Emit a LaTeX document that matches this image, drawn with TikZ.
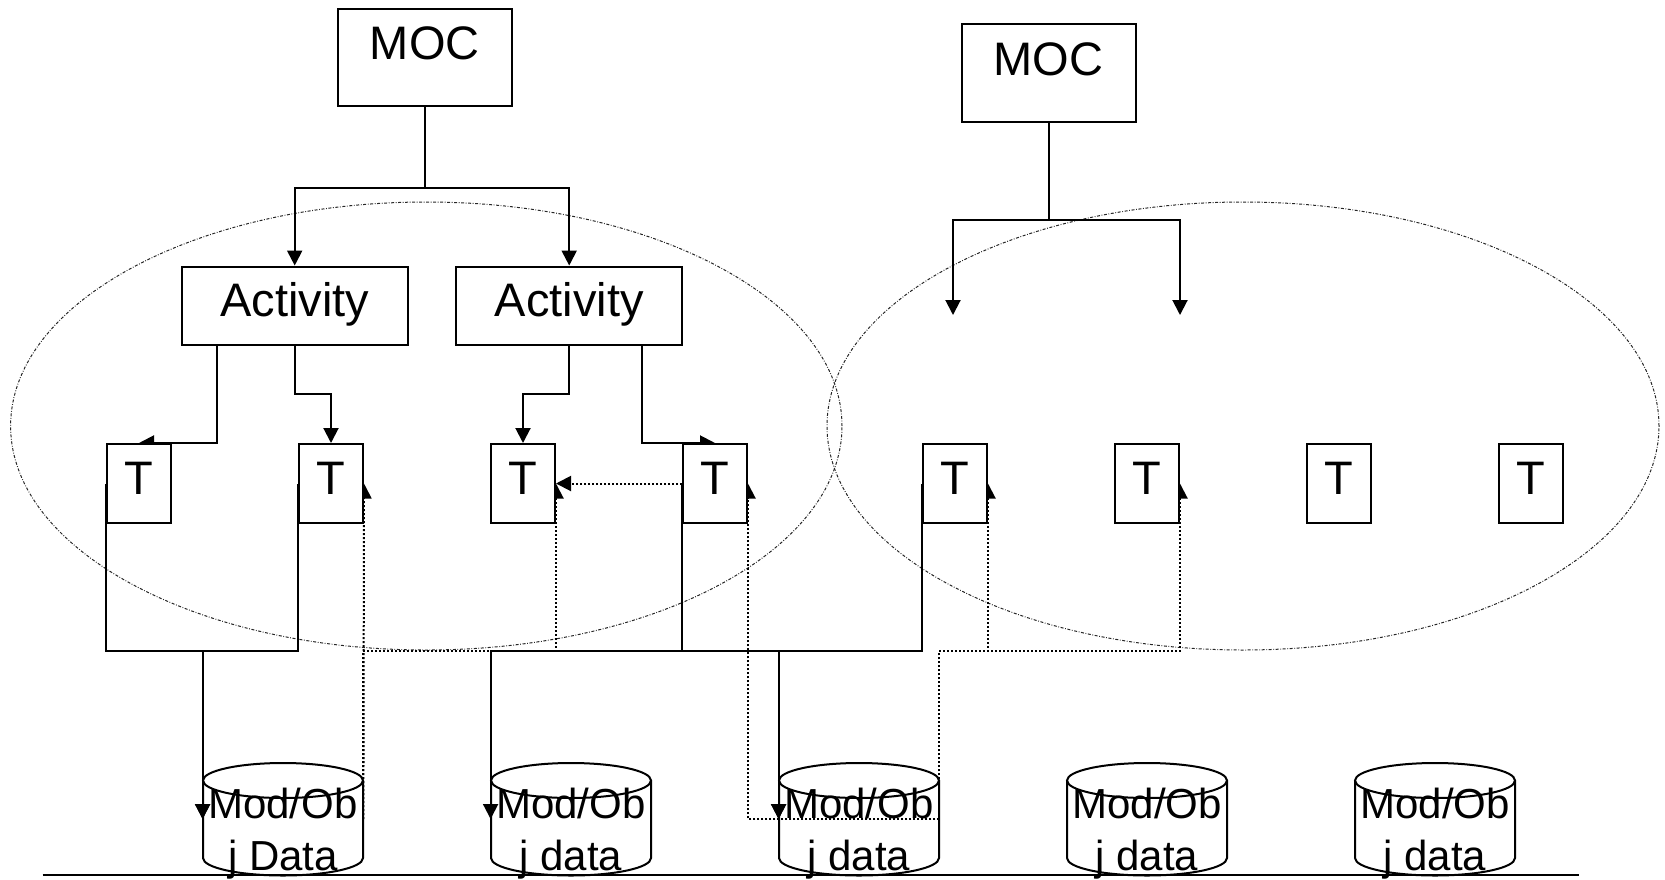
\documentclass[tikz,border=0pt]{standalone}
\usepackage{fontspec}
\setmainfont{Liberation Sans}
\usetikzlibrary{arrows.meta}
\pgfdeclarelayer{bg}
\pgfsetlayers{bg,main}
\begin{document}
\begin{tikzpicture}[x=0.5pt,y=-0.5pt,
  box/.style={draw, line width=1pt, fill=white, inner sep=0pt, font=\fontsize{23.5pt}{28pt}\selectfont},
  mocbox/.style={box, minimum width=87pt, minimum height=48.85pt, text height=12pt, text depth=9.6pt},
  actbox/.style={box, minimum width=113pt, minimum height=39.25pt, text height=12pt, text depth=1.5pt},
  tbox/.style={box, minimum width=32pt, minimum height=39.5pt, text height=12pt, text depth=1.5pt},
  cylbody/.style={inner sep=0pt, minimum width=80pt, minimum height=56.25pt},
  cylline/.style={line width=1pt},
  cyltext/.style={font=\fontsize{21pt}{26pt}\selectfont, align=center, inner sep=0pt},
  arr/.style={line width=1pt, -{Triangle[length=7.5pt,width=7.5pt]}},
  dotconn/.style={line width=1pt, dash pattern=on 1pt off 1pt, -{Triangle[length=7.5pt,width=7.5pt]}},
  group/.style={line width=0.5pt, black!85, dash pattern=on 1.5pt off 0.8pt on 0.4pt off 0.8pt},
  ground/.style={line width=1.2pt}
]
\useasboundingbox (0,0) rectangle (1665,879);

% boxes
\node[mocbox] (moc1) at (424.8,57.4) {MOC};
\node[mocbox] (moc2) at (1048.6,73.2) {MOC};
\node[actbox] (a1) at (294.7,305.8) {Activity};
\node[actbox] (a2) at (569.2,305.8) {Activity};
\foreach \n/\x in {1/139,2/331,3/523,4/715,5/955,6/1147,7/1339,8/1530.5}
  \node[tbox] (t\n) at (\x,483.5) {T};

% data stores
\foreach \n/\x in {1/283,2/571,3/859,4/1147,5/1435}{
  \node[cylbody] (d\n) at (\x,819) {};
  \draw[cylline] (\x,780.5) ellipse [x radius=40pt, y radius=8.75pt];
  \draw[cylline] (\x-80,780.5) -- (\x-80,858) arc[start angle=180, end angle=360, x radius=40pt, y radius=8.75pt] -- (\x+80,780.5);
}
\draw[ground] (42.5,875) -- (1579,875);

\node[cyltext] (l1) at (283,834) {Mod/Ob\\j Data};
\node[cyltext] (l2) at (571,834) {Mod/Ob\\j data};
\node[cyltext] (l3) at (859,834) {Mod/Ob\\j data};
\node[cyltext] (l4) at (1147,834) {Mod/Ob\\j data};
\node[cyltext] (l5) at (1435,834) {Mod/Ob\\j data};

\coordinate (bus) at (0,651);
\coordinate (p1) at (953,315);
\coordinate (p2) at (1180,315);

\begin{pgfonlayer}{bg}
\draw[group] (426.3,426) ellipse [x radius=207.85pt, y radius=112pt];
\draw[group] (1243,426) ellipse [x radius=208pt, y radius=112pt];

\draw[arr] (moc1.south) -- (moc1.south |- 0,188) -| (a1.north);
\draw[arr] (moc1.south) -- (moc1.south |- 0,188) -| (a2.north);
\draw[arr] (moc2.south) -- (moc2.south |- 0,219.5) -| (p1);
\draw[arr] (moc2.south) -- (moc2.south |- 0,219.5) -| (p2);

\draw[arr] (a1.south -| 217,0) |- (t1.north);
\draw[arr] (a1.south) -- (a1.south |- 0,394) -| (t2.north);
\draw[arr] (a2.south) -- (a2.south |- 0,394) -| (t3.north);
\draw[arr] (a2.south -| 642,0) |- (t4.north);

\draw[arr] (t1.west) -- (t1.west |- bus) -| (d1.west);
\draw[arr] (t2.west) -- (t2.west |- bus) -| (d1.west);
\draw[arr] (t4.west) -- (t4.west |- bus) -| (d2.west);
\draw[arr] (t4.west) -- (t4.west |- bus) -| (d3.west);
\draw[arr] (t5.west) -- (t5.west |- bus) -| (d3.west);

\draw[dotconn] (t4.west) -- (t3.east);
\draw[dotconn] (d1.east) -- (t2.east);
\draw[dotconn] (d1.east) -- (d1.east |- bus) -| (t3.east);
\draw[dotconn] (d3.east) -| (t4.east);
\draw[dotconn] (d3.east) -- (d3.east |- bus) -| (t5.east);
\draw[dotconn] (d3.east) -- (d3.east |- bus) -| (t6.east);
\end{pgfonlayer}
\end{tikzpicture}
\end{document}
